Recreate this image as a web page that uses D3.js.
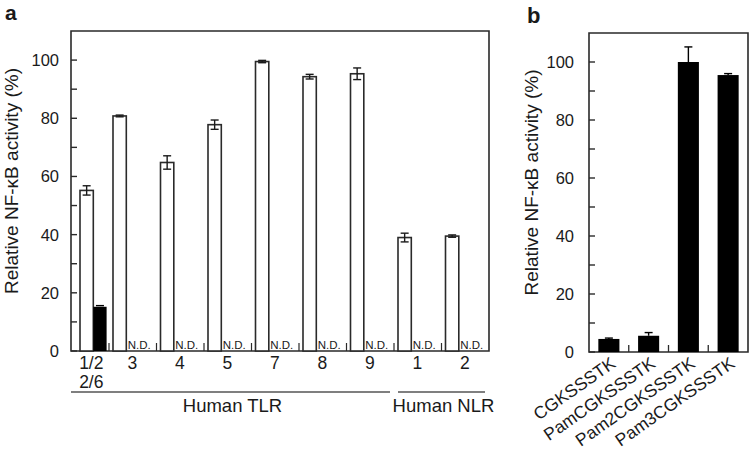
<!DOCTYPE html>
<html><head><meta charset="utf-8">
<script src="https://cdn.jsdelivr.net/npm/d3@7"></script>
<style>
html,body{margin:0;padding:0;background:#fff;}
svg{display:block;font-family:"Liberation Sans",Arial,Helvetica,sans-serif;}
</style></head>
<body>
<script>
// ---- Data ----
const groupIds = ["TLR1/2", "TLR3", "TLR4", "TLR5", "TLR7", "TLR8", "TLR9", "NLR1", "NLR2"];
const groupLabels = [["1/2", "2/6"], ["3"], ["4"], ["5"], ["7"], ["8"], ["9"], ["1"], ["2"]];
const groupFamily = ["Human TLR", "Human TLR", "Human TLR", "Human TLR", "Human TLR", "Human TLR", "Human TLR", "Human NLR", "Human NLR"];
const whiteValues = [55.2, 80.8, 64.8, 77.8, 99.5, 94.3, 95.3, 39.0, 39.5];
const whiteErrors = [1.6, 0.3, 2.3, 1.6, 0.4, 0.8, 2.0, 1.5, 0.4];
const blackValues = [15.2, null, null, null, null, null, null, null, null];
const blackErrors = [0.4, 0, 0, 0, 0, 0, 0, 0, 0];
const lipopeptides = ["CGKSSSTK", "PamCGKSSSTK", "Pam2CGKSSSTK", "Pam3CGKSSSTK"];
const lipoValues = [4.5, 5.6, 100.0, 95.5];
const lipoErrors = [0.3, 1.1, 5.2, 0.5];
const yTicksMajor = [0, 20, 40, 60, 80, 100];
const yTitle = "Relative NF-\u03baB activity (%)";

const W = 749, H = 458;
const svg = d3.select("body").append("svg").attr("width", W).attr("height", H);
const ink = "#1a1a1a", lineCol = "#2a2a2a";

function yAxis(g, y, left) {
  const minor = d3.range(0, 110, 10);
  g.selectAll(".tk").data(minor).join("line")
    .attr("x1", left).attr("x2", left + 6)
    .attr("y1", d => y(d)).attr("y2", d => y(d))
    .attr("stroke", lineCol).attr("stroke-width", 1.4);
}

// ================= Panel a =================
const A = {left: 71, right: 489, top: 31, bottom: 351};
const ya = d3.scaleLinear().domain([0, 110]).range([A.bottom, A.top]);
const stepA = (A.right - A.left) / (groupIds.length - 0.2);
const xa = d3.scaleBand().domain(groupIds).range([A.right - stepA * groupIds.length, A.right]).padding(0);
const bw = xa.bandwidth();
const barW = 13.3;
const ga = svg.append("g");

ga.append("path").attr("d", `M${A.left},${A.bottom}V${A.top}H${A.right}V${A.bottom}Z`)
  .attr("fill", "none").attr("stroke", lineCol).attr("stroke-width", 1.6);
yAxis(ga, ya, A.left);
ga.selectAll(".yl").data(yTicksMajor).join("text")
  .attr("x", A.left - 12).attr("y", d => ya(d)).attr("dy", "0.36em")
  .attr("text-anchor", "end").attr("font-size", 16.5).attr("fill", ink).text(d => d);
ga.append("text").attr("transform", `translate(18,${(A.top + A.bottom) / 2 - 10}) rotate(-90)`)
  .attr("text-anchor", "middle").attr("font-size", 19).attr("fill", ink).text(yTitle);

ga.selectAll(".xt").data(groupIds.slice(1)).join("line")
  .attr("x1", d => xa(d)).attr("x2", d => xa(d))
  .attr("y1", A.bottom).attr("y2", A.bottom - 8)
  .attr("stroke", lineCol).attr("stroke-width", 1.2);

function barLeft(id) {
  const base = xa(id) + 4;
  return Math.max(base, A.left + 9);
}
const rowsA = groupIds.map((id, i) => ({id, i, w: whiteValues[i], we: whiteErrors[i], b: blackValues[i], be: blackErrors[i]}));

ga.selectAll(".wb").data(rowsA).join("rect")
  .attr("x", d => barLeft(d.id)).attr("width", barW)
  .attr("y", d => ya(d.w)).attr("height", d => ya(0) - ya(d.w))
  .attr("fill", "#fff").attr("stroke", lineCol).attr("stroke-width", 1.6);
rowsA.forEach(d => {
  const cx = barLeft(d.id) + barW / 2;
  const eg = ga.append("g").attr("stroke", ink).attr("stroke-width", 1.4);
  eg.append("line").attr("x1", cx).attr("x2", cx).attr("y1", ya(d.w - d.we)).attr("y2", ya(d.w + d.we));
  eg.append("line").attr("x1", cx - 4).attr("x2", cx + 4).attr("y1", ya(d.w + d.we)).attr("y2", ya(d.w + d.we));
  eg.append("line").attr("x1", cx - 4).attr("x2", cx + 4).attr("y1", ya(d.w - d.we)).attr("y2", ya(d.w - d.we));
});
rowsA.filter(d => d.b != null).forEach(d => {
  const x0 = barLeft(d.id) + barW;
  ga.append("rect").attr("x", x0).attr("width", barW)
    .attr("y", ya(d.b)).attr("height", ya(0) - ya(d.b)).attr("fill", "#000");
  const cx = x0 + barW / 2;
  ga.append("line").attr("x1", cx - 4).attr("x2", cx + 4).attr("y1", ya(d.b + d.be)).attr("y2", ya(d.b + d.be))
    .attr("stroke", "#000").attr("stroke-width", 1.4);
});
ga.selectAll(".nd").data(rowsA.filter(d => d.b == null)).join("text")
  .attr("x", d => barLeft(d.id) + barW + 1.5).attr("y", A.bottom - 2.5)
  .attr("font-size", 11.5).attr("fill", ink).text("N.D.");

rowsA.forEach(d => {
  const cx = barLeft(d.id) + barW + 6;
  groupLabels[d.i].forEach((t, k) => {
    ga.append("text").attr("x", d.i === 0 ? barLeft(d.id) + barW - 2 : cx).attr("y", A.bottom + 18 + k * 18.5)
      .attr("text-anchor", "middle").attr("font-size", 17.5).attr("fill", ink).text(t);
  });
});

const families = Array.from(new Set(groupFamily));
families.forEach(f => {
  const ids = groupIds.filter((id, i) => groupFamily[i] === f);
  const first = ids[0], last = ids[ids.length - 1];
  const x0 = Math.max(xa(first) + 4, A.left);
  const x1 = Math.min(xa(last) + bw - 4, A.right);
  ga.append("line").attr("x1", x0).attr("x2", x1).attr("y1", 392).attr("y2", 392)
    .attr("stroke", "#555").attr("stroke-width", 1.4);
  ga.append("text").attr("x", (x0 + x1) / 2 + 2).attr("y", 412).attr("text-anchor", "middle")
    .attr("font-size", 18.5).attr("fill", ink).text(f);
});
ga.append("text").attr("x", 5).attr("y", 20).attr("font-size", 21).attr("font-weight", "bold").attr("fill", ink).text("a");

// ================= Panel b =================
const B = {left: 589, right: 748, top: 33, bottom: 352};
const yb = d3.scaleLinear().domain([0, 110]).range([B.bottom, B.top]);
const xb = d3.scaleBand().domain(lipopeptides).range([B.left, B.right]).paddingInner(0.47).paddingOuter(0.235);
const xbStep = d3.scaleBand().domain(lipopeptides).range([B.left, B.right]);
const gb = svg.append("g");
gb.append("path").attr("d", `M${B.left},${B.bottom}V${B.top}H${B.right}V${B.bottom}Z`)
  .attr("fill", "none").attr("stroke", lineCol).attr("stroke-width", 1.6);
yAxis(gb, yb, B.left);
gb.selectAll(".yl").data(yTicksMajor).join("text")
  .attr("x", B.left - 15).attr("y", d => yb(d)).attr("dy", "0.36em")
  .attr("text-anchor", "end").attr("font-size", 16.5).attr("fill", ink).text(d => d);
gb.append("text").attr("transform", `translate(538,${(B.top + B.bottom) / 2 - 10}) rotate(-90)`)
  .attr("text-anchor", "middle").attr("font-size", 19).attr("fill", ink).text(yTitle);
gb.selectAll(".xt").data(lipopeptides.slice(1)).join("line")
  .attr("x1", d => xbStep(d)).attr("x2", d => xbStep(d))
  .attr("y1", B.bottom).attr("y2", B.bottom - 7)
  .attr("stroke", lineCol).attr("stroke-width", 1.3);
const rowsB = lipopeptides.map((n, i) => ({n, v: lipoValues[i], e: lipoErrors[i]}));
gb.selectAll(".bb").data(rowsB).join("rect")
  .attr("x", d => xb(d.n)).attr("width", xb.bandwidth())
  .attr("y", d => yb(d.v)).attr("height", d => yb(0) - yb(d.v)).attr("fill", "#000");
rowsB.forEach(d => {
  const cx = xb(d.n) + xb.bandwidth() / 2;
  gb.append("line").attr("x1", cx).attr("x2", cx).attr("y1", yb(d.v)).attr("y2", yb(d.v + d.e))
    .attr("stroke", "#000").attr("stroke-width", 1.4);
  gb.append("line").attr("x1", cx - 4).attr("x2", cx + 4).attr("y1", yb(d.v + d.e)).attr("y2", yb(d.v + d.e))
    .attr("stroke", "#000").attr("stroke-width", 1.4);
});
gb.selectAll(".xl").data(rowsB).join("text")
  .attr("transform", d => `translate(${xb(d.n) + xb.bandwidth() / 2 + 8},${B.bottom + 14}) rotate(-35)`)
  .attr("text-anchor", "end").attr("font-size", 17.5).attr("fill", ink).text(d => d.n);
gb.append("text").attr("x", 527).attr("y", 23).attr("font-size", 22).attr("font-weight", "bold").attr("fill", ink).text("b");
</script>
</body></html>
